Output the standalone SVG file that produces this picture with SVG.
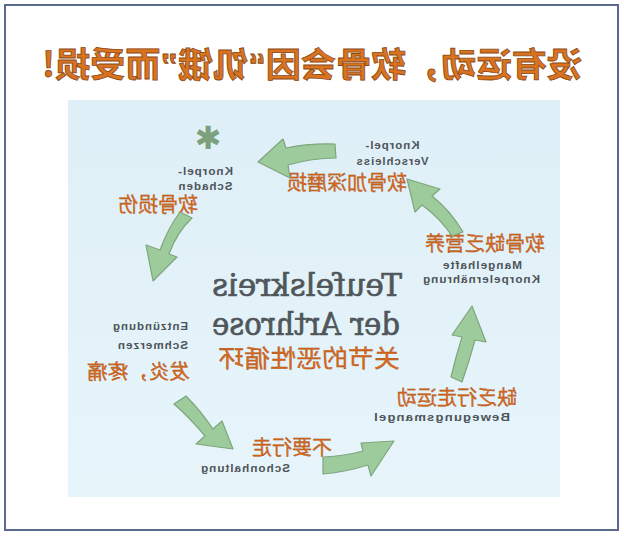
<svg xmlns="http://www.w3.org/2000/svg" width="624" height="536" viewBox="0 0 624 536">
<style>
.zh{font-family:"Noto Sans CJK SC","Noto Sans",sans-serif;font-size:20px;fill:#dc6a1c;stroke:#9c4a14;stroke-width:0.3}
.de{font-family:"Liberation Sans",Arial,sans-serif;font-weight:bold;font-size:11.5px;fill:#4e5458;letter-spacing:1px}
.big{font-family:"DejaVu Serif","Liberation Serif",serif;font-size:31px;fill:#50565a;stroke:#50565a;stroke-width:0.7}
.title{font-family:"Noto Sans CJK SC","Noto Sans",sans-serif;font-size:34px;font-weight:bold;fill:#d9731f;stroke:#8a4a18;stroke-width:0.8}
.q{font-family:"Liberation Sans",Arial,sans-serif}
.arr{fill:#9ecb9b;stroke:#7ea67e;stroke-width:1.2;stroke-linejoin:round}
</style>
<defs>
<linearGradient id="pg" x1="0" y1="0" x2="0" y2="1">
<stop offset="0" stop-color="#dfeff7"/>
<stop offset="1" stop-color="#e7f5fb"/>
</linearGradient>
</defs>
<rect x="5" y="5" width="613" height="525" fill="#ffffff" stroke="#5a6b8c" stroke-width="2"/>
<rect x="68" y="100" width="492" height="397" fill="url(#pg)"/>

<g id="title" transform="matrix(-1 0 0 1 624 0)">
<text class="title" x="312" y="77" text-anchor="middle" textLength="540" lengthAdjust="spacingAndGlyphs">没有运动，软骨会因<tspan class="q">“</tspan>饥饿<tspan class="q">”</tspan>而受损!</text>
</g>

<g id="center" transform="matrix(-1 0 0 1 624 0)">
<text class="big" x="222" y="296" textLength="190" lengthAdjust="spacingAndGlyphs">Teufelskreis</text>
<text class="big" x="224" y="335" textLength="188" lengthAdjust="spacingAndGlyphs">der Arthrose</text>
<text class="zh" x="224" y="367" style="font-size:24px" textLength="182" lengthAdjust="spacingAndGlyphs">关节的恶性循环</text>
</g>

<g id="n-schaden" transform="matrix(-1 0 0 1 624 0)">
<text x="416" y="138" text-anchor="middle" dominant-baseline="central" style="font-family:'DejaVu Sans',sans-serif;font-size:32px;fill:#7da07d">✱</text>
<text class="de" x="419" y="175" text-anchor="middle" textLength="56" lengthAdjust="spacingAndGlyphs">Knorpel-</text>
<text class="de" x="419" y="190" text-anchor="middle" textLength="55" lengthAdjust="spacingAndGlyphs">Schaden</text>
<text class="zh" x="466" y="212" text-anchor="middle" textLength="80" lengthAdjust="spacingAndGlyphs">软骨损伤</text>
</g>

<g id="n-verschleiss" transform="matrix(-1 0 0 1 624 0)">
<text class="de" x="232" y="149" text-anchor="middle" textLength="55" lengthAdjust="spacingAndGlyphs">Knorpel-</text>
<text class="de" x="232" y="165" text-anchor="middle" textLength="73" lengthAdjust="spacingAndGlyphs">Verschleiss</text>
<text class="zh" x="277" y="190" text-anchor="middle" textLength="120" lengthAdjust="spacingAndGlyphs">软骨加深磨损</text>
</g>

<g id="n-ernaehrung" transform="matrix(-1 0 0 1 624 0)">
<text class="zh" x="139" y="251" text-anchor="middle" textLength="120" lengthAdjust="spacingAndGlyphs">软骨缺乏营养</text>
<text class="de" x="142" y="269" text-anchor="middle" textLength="80" lengthAdjust="spacingAndGlyphs">Mangelhafte</text>
<text class="de" x="143" y="283" text-anchor="middle" textLength="118" lengthAdjust="spacingAndGlyphs">Knorpelernährung</text>
</g>

<g id="n-bewegung" transform="matrix(-1 0 0 1 624 0)">
<text class="zh" x="167" y="405" text-anchor="middle" textLength="120" lengthAdjust="spacingAndGlyphs">缺乏行走运动</text>
<text class="de" x="182.5" y="421" text-anchor="middle" textLength="137" lengthAdjust="spacingAndGlyphs">Bewegungsmangel</text>
</g>

<g id="n-schonhaltung" transform="matrix(-1 0 0 1 624 0)">
<text class="zh" x="332" y="455" text-anchor="middle" textLength="80" lengthAdjust="spacingAndGlyphs">不要行走</text>
<text class="de" x="379" y="472" text-anchor="middle" textLength="90" lengthAdjust="spacingAndGlyphs">Schonhaltung</text>
</g>

<g id="n-entzuendung" transform="matrix(-1 0 0 1 624 0)">
<text class="de" x="436" y="330" textLength="76" lengthAdjust="spacingAndGlyphs">Entzündung</text>
<text class="de" x="436" y="349" textLength="71" lengthAdjust="spacingAndGlyphs">Schmerzen</text>
<text class="zh" x="434" y="379" textLength="103" lengthAdjust="spacingAndGlyphs">发炎，疼痛</text>
</g>

<g id="connectors">
<path class="arr" d="M335,144 Q310,143 286,148 L283,139 L258,162 L290,178 L288,165 Q312,158 336,158 Z"/>
<path class="arr" d="M180,212 Q168,228 160,250 L146,245 L153,281 L177,257 L169,254 Q177,232 192,218 Z"/>
<path class="arr" d="M186,396 Q200,410 213,429 L222,421 L233,449 L196,444 L205,436 Q190,418 174,404 Z"/>
<path class="arr" d="M323,457 Q345,456 363,451 L361,443 L394,441 L371,476 L368,465 Q346,472 323,474 Z"/>
<path class="arr" d="M451,377 Q456,356 462,337 L452,335 L472,306 L486,342 L475,340 Q469,362 462,382 Z"/>
<path class="arr" d="M407,179 L415,212 L422,205 Q440,218 452,236 L463,232 Q450,210 432,196 L440,189 Z"/>
</g>
</svg>
